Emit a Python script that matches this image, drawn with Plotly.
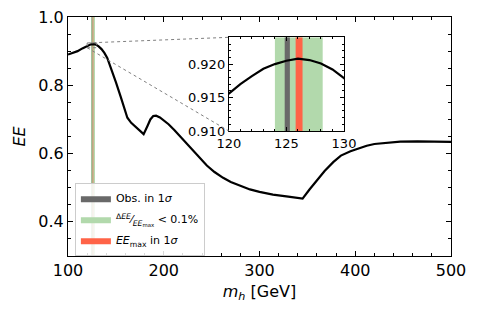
import plotly.graph_objects as go

# ---------------- data ----------------
mh = [100, 105, 110, 115, 120, 121, 122, 123, 124, 125, 126, 127, 128, 129, 130,
      132, 135, 138, 141, 145, 150, 155, 160, 162, 166, 170, 174, 179, 183, 186,
      189, 192, 196, 200, 205, 211, 218, 224, 230, 237, 245, 253, 262, 270, 280,
      290, 300, 314, 330, 345, 352, 360, 368, 377, 385, 395, 404, 412, 420, 430,
      447, 465, 482, 500]
ee = [0.890, 0.894, 0.900, 0.908, 0.9156, 0.9170, 0.9182, 0.9193, 0.9200, 0.9205,
      0.9208, 0.9206, 0.9201, 0.9192, 0.9179,
      0.914, 0.906, 0.895, 0.880, 0.851, 0.809, 0.767, 0.721, 0.705, 0.690, 0.680,
      0.670, 0.657, 0.681, 0.700,
      0.710, 0.711, 0.706, 0.698, 0.686, 0.669, 0.648, 0.630, 0.610, 0.588, 0.565,
      0.546, 0.529, 0.517, 0.505,
      0.495, 0.488, 0.480, 0.474, 0.468, 0.494, 0.523, 0.549, 0.575, 0.594, 0.607,
      0.616, 0.623, 0.628, 0.631,
      0.635, 0.636, 0.636, 0.634]

obs_band = [124.85, 125.30]      # Obs. in 1 sigma
flat_band = [124.0, 128.15]      # dEE/EEmax < 0.1%
max_band = [125.8, 126.4]        # EEmax in 1 sigma

main_xrange = [100, 500]
main_yrange = [0.3, 1.0]
inset_xrange = [120, 130]
inset_yrange = [0.910, 0.924]

# ---------------- style ----------------
FONT = "DejaVu Sans"
GRAY = "rgb(105,105,105)"
GREEN = "rgb(178,217,172)"
RED = "rgb(255,99,71)"

inset_dx = [0.420, 0.7206]
inset_dy = [0.523, 0.915]

fig = go.Figure()

bands = [
    (flat_band, GREEN, "<sup>Δ<i>EE</i></sup>⁄<sub><i>EE</i><sub>max</sub></sub> &lt; 0.1%", 2),
    (obs_band, GRAY, "Obs. in 1<i>σ</i>", 1),
    (max_band, RED, "<i>EE</i><sub>max</sub> in 1<i>σ</i>", 3),
]

for band, col, name, rank in bands:
    fig.add_trace(go.Scatter(
        x=[band[0], band[1], band[1], band[0], band[0]],
        y=[main_yrange[0], main_yrange[0], main_yrange[1], main_yrange[1], main_yrange[0]],
        fill="toself", fillcolor=col, mode="lines", line=dict(width=0, color=col),
        name=name, legendrank=rank, legendgroup=str(rank),
        hoverinfo="skip", xaxis="x", yaxis="y"))

for band, col, name, rank in bands:
    fig.add_trace(go.Scatter(
        x=[band[0], band[1], band[1], band[0], band[0]],
        y=[inset_yrange[0], inset_yrange[0], inset_yrange[1], inset_yrange[1], inset_yrange[0]],
        fill="toself", fillcolor=col, mode="lines", line=dict(width=0, color=col),
        showlegend=False, hoverinfo="skip", xaxis="x2", yaxis="y2"))

fig.add_trace(go.Scatter(x=mh, y=ee, mode="lines", line=dict(color="black", width=2.2),
                         showlegend=False, xaxis="x", yaxis="y"))
fig.add_trace(go.Scatter(x=mh, y=ee, mode="lines", line=dict(color="black", width=2.2),
                         showlegend=False, xaxis="x2", yaxis="y2"))

# connectors from zoom rectangle to inset corners
def to_main_x(f):
    return main_xrange[0] + f * (main_xrange[1] - main_xrange[0])

def to_main_y(f):
    return main_yrange[0] + f * (main_yrange[1] - main_yrange[0])

dot = dict(color="rgb(128,128,128)", width=1, dash="dot")
fig.add_shape(type="rect", x0=inset_xrange[0], x1=inset_xrange[1], y0=inset_yrange[0],
              y1=inset_yrange[1], xref="x", yref="y", line=dot)
fig.add_shape(type="line", x0=inset_xrange[0], y0=inset_yrange[1],
              x1=to_main_x(inset_dx[0]), y1=to_main_y(inset_dy[1]), xref="x", yref="y", line=dot)
fig.add_shape(type="line", x0=inset_xrange[0], y0=inset_yrange[0],
              x1=to_main_x(inset_dx[0]), y1=to_main_y(inset_dy[0]), xref="x", yref="y", line=dot)

axis_common = dict(showline=True, linecolor="black", linewidth=1.2, mirror="allticks",
                   ticks="inside", tickcolor="black", showgrid=False, zeroline=False,
                   automargin=False)

fig.update_layout(
    width=479, height=314,
    margin=dict(l=68, r=28, t=17, b=58),
    paper_bgcolor="white", plot_bgcolor="white",
    font=dict(family=FONT, color="black"),
    xaxis=dict(range=main_xrange, dtick=100, tick0=0, ticklen=5, tickwidth=1.2,
               tickfont=dict(size=16),
               minor=dict(dtick=20, ticks="inside", ticklen=2.5, tickcolor="black"),
               title=dict(text="<i>m</i><sub><i>h</i></sub> [GeV]", font=dict(size=16), standoff=6),
               **axis_common),
    yaxis=dict(range=main_yrange, tickvals=[0.4, 0.6, 0.8, 1.0], ticktext=["0.4", "0.6", "0.8", "1.0"],
               ticklen=5, tickwidth=1.2, tickfont=dict(size=16),
               minor=dict(dtick=0.05, tick0=0, ticks="inside", ticklen=2.5, tickcolor="black"),
               title=dict(text="<i>EE</i>", font=dict(size=16), standoff=8),
               **axis_common),
    xaxis2=dict(domain=inset_dx, anchor="y2", range=inset_xrange, dtick=5, tick0=0,
                ticklen=4, tickwidth=1, tickfont=dict(size=13),
                minor=dict(dtick=1, ticks="inside", ticklen=2, tickcolor="black"),
                **axis_common),
    yaxis2=dict(domain=inset_dy, anchor="x2", range=inset_yrange, dtick=0.005, tick0=0,
                tickformat=".3f", ticklen=4, tickwidth=1, tickfont=dict(size=13),
                minor=dict(dtick=0.001, tick0=0, ticks="inside", ticklen=2, tickcolor="black"),
                **axis_common),
    legend=dict(x=0.018, y=0.307, xanchor="left", yanchor="top",
                bgcolor="rgba(255,255,255,0.85)", bordercolor="rgb(204,204,204)", borderwidth=1,
                font=dict(size=11), tracegroupgap=2, itemwidth=30),
)

fig.write_html("out.html",
               config={"displayModeBar": False},
               post_script=["document.body.style.margin='0';document.body.style.overflow='hidden';"])
